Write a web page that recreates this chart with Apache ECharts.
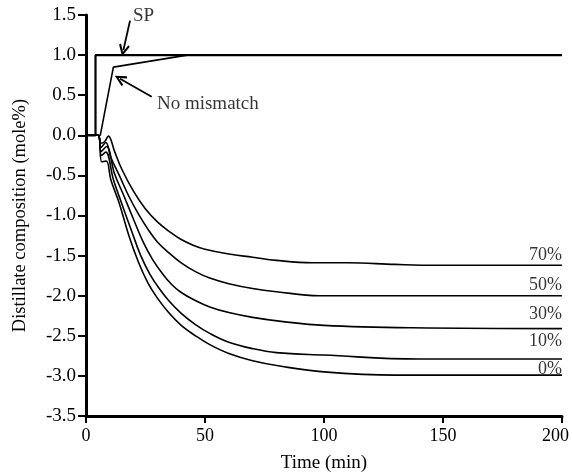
<!DOCTYPE html>
<html>
<head>
<meta charset="utf-8">
<script src="https://cdn.jsdelivr.net/npm/echarts@6/dist/echarts.min.js"></script>
<style>
html,body{margin:0;padding:0;background:#fff;}
#chart{width:572px;height:474px;}
</style>
</head>
<body>
<div id="chart"></div>
<script>
// ---- data ----
const spTime = [0, 4, 4, 200];
const spValue = [0, 0, 1.0, 1.0];

const noMismatchTime = [0, 6, 11.5, 42.5, 200];
const noMismatchValue = [0, 0, 0.85, 1.0, 1.0];

const time70 = [0, 5, 6.2, 7.8, 9.4, 12, 15, 20, 25, 30, 35, 40, 45, 50, 60, 70, 80, 95, 110, 130, 147, 200];
const value70 = [0, 0, -0.10, -0.08, -0.01, -0.20, -0.42, -0.70, -0.92, -1.08, -1.20, -1.30, -1.37, -1.42, -1.48, -1.52, -1.56, -1.59, -1.59, -1.61, -1.62, -1.62];

const time50 = [0, 5, 6.3, 8.3, 10.5, 14, 18, 22, 26, 30, 35, 40, 46, 52, 60, 70, 80, 98, 200];
const value50 = [0, 0, -0.15, -0.09, -0.28, -0.50, -0.76, -0.98, -1.17, -1.33, -1.47, -1.59, -1.70, -1.78, -1.85, -1.91, -1.95, -2.00, -2.00];

const time30 = [0, 5, 6.4, 8.6, 12, 16, 20, 24, 28, 32, 36, 40, 46, 52, 60, 70, 82, 100, 137, 200];
const value30 = [0, 0, -0.20, -0.14, -0.48, -0.76, -1.05, -1.33, -1.55, -1.72, -1.86, -1.96, -2.06, -2.14, -2.21, -2.27, -2.32, -2.37, -2.40, -2.41];

const time10 = [0, 5, 6.5, 8.3, 11.5, 15, 19, 23, 27, 31, 35, 40, 46, 52, 60, 70, 80, 100, 140, 200];
const value10 = [0, 0, -0.25, -0.21, -0.55, -0.85, -1.18, -1.50, -1.74, -1.92, -2.07, -2.22, -2.36, -2.47, -2.58, -2.66, -2.71, -2.74, -2.79, -2.79];

const time0 = [0, 5, 6.6, 8.5, 10.5, 14, 18, 22, 26, 30, 35, 40, 46, 52, 60, 70, 82, 100, 130, 200];
const value0 = [0, 0, -0.33, -0.32, -0.56, -0.85, -1.25, -1.58, -1.84, -2.03, -2.22, -2.37, -2.50, -2.61, -2.72, -2.81, -2.88, -2.95, -2.99, -2.99];

const mismatchNames = ['70%', '50%', '30%', '10%', '0%'];

const xTicks = [0, 50, 100, 150, 200];
const yTicks = [-3.5, -3.0, -2.5, -2.0, -1.5, -1.0, -0.5, 0.0, 0.5, 1.0, 1.5];

// ---- annotation placement (not data) ----
const pctLabelPos = [[200, -1.49], [200, -1.87], [200, -2.23], [200, -2.57], [200, -2.92]];
const textNotes = [
  {text: 'SP', pos: [19.7, 1.49]},
  {text: 'No mismatch', pos: [29.8, 0.385]}
];
const arrows = [
  [[18.5, 1.43], [15.7, 1.06]],
  [[27.6, 0.48], [14.3, 0.705]]
];

const FONT = '"Liberation Serif", "Times New Roman", "DejaVu Serif", serif';
const zip = (xs, ys) => xs.map((x, i) => [x, ys[i]]);

const curveStyle = {color: '#000', width: 1.6};
const mismatchData = [
  zip(time70, value70), zip(time50, value50), zip(time30, value30),
  zip(time10, value10), zip(time0, value0)
];

const arrowPath = 'path://M5,0 L10,9 L8.4,10 L5,3.6 L1.6,10 L0,9 Z';

const series = [
  {
    name: 'SP', type: 'line', data: zip(spTime, spValue), showSymbol: false,
    lineStyle: {color: '#000', width: 2.2}, z: 3,
    markLine: {
      silent: true, symbol: ['none', arrowPath], symbolSize: [11, 12],
      lineStyle: {color: '#000', width: 1.8, type: 'solid'},
      label: {show: false}, emphasis: {disabled: true},
      data: arrows.map(a => [{coord: a[0]}, {coord: a[1]}])
    }
  },
  {
    name: 'No mismatch', type: 'line', data: zip(noMismatchTime, noMismatchValue), showSymbol: false,
    lineStyle: {color: '#000', width: 1.6}
  }
];
mismatchNames.forEach((n, i) => {
  series.push({
    name: n, type: 'line', data: mismatchData[i], showSymbol: false,
    smooth: 0.4, lineStyle: curveStyle
  });
});
series.push({
  type: 'scatter', symbolSize: 0, silent: true,
  data: pctLabelPos.map((p, i) => ({value: p, name: mismatchNames[i]})),
  label: {show: true, position: 'left', distance: 0, formatter: p => p.name,
    color: '#000', fontFamily: FONT, fontSize: 18}
});
series.push({
  type: 'scatter', symbolSize: 0, silent: true,
  data: textNotes.map(t => ({value: t.pos, name: t.text})),
  label: {show: true, position: 'right', distance: 0, formatter: p => p.name,
    color: '#000', fontFamily: FONT, fontSize: 19}
});

const lastX = xTicks[xTicks.length - 1];
const chart = echarts.init(document.getElementById('chart'));
chart.setOption({
  animation: false,
  backgroundColor: '#fff',
  grid: {left: 86, right: 10, top: 15, bottom: 58, outerBoundsMode: 'none', containLabel: false},
  xAxis: {
    type: 'value', min: xTicks[0], max: lastX, interval: 50,
    name: 'Time (min)', nameLocation: 'middle', nameGap: 38,
    nameTextStyle: {color: '#000', fontFamily: FONT, fontSize: 19},
    axisLine: {show: true, onZero: false, lineStyle: {color: '#000', width: 3}},
    axisTick: {show: true, length: 7, lineStyle: {color: '#000', width: 2}},
    axisLabel: {color: '#000', fontFamily: FONT, fontSize: 18, margin: 11,
      formatter: v => v === lastX ? '{last|' + v + '}' : String(v),
      rich: {last: {fontFamily: FONT, fontSize: 18, color: '#000', padding: [0, 13, 0, 0]}}},
    splitLine: {show: false}
  },
  yAxis: {
    type: 'value', min: yTicks[0], max: yTicks[yTicks.length - 1], interval: 0.5,
    name: 'Distillate composition (mole%)', nameLocation: 'middle', nameGap: 56,
    nameTextStyle: {color: '#000', fontFamily: FONT, fontSize: 18.5},
    axisLine: {show: true, onZero: false, lineStyle: {color: '#000', width: 3}},
    axisTick: {show: true, length: 8, lineStyle: {color: '#000', width: 2}},
    axisLabel: {color: '#000', fontFamily: FONT, fontSize: 19, margin: 10,
      formatter: v => v.toFixed(1)},
    splitLine: {show: false}
  },
  series: series
});
</script>
</body>
</html>
